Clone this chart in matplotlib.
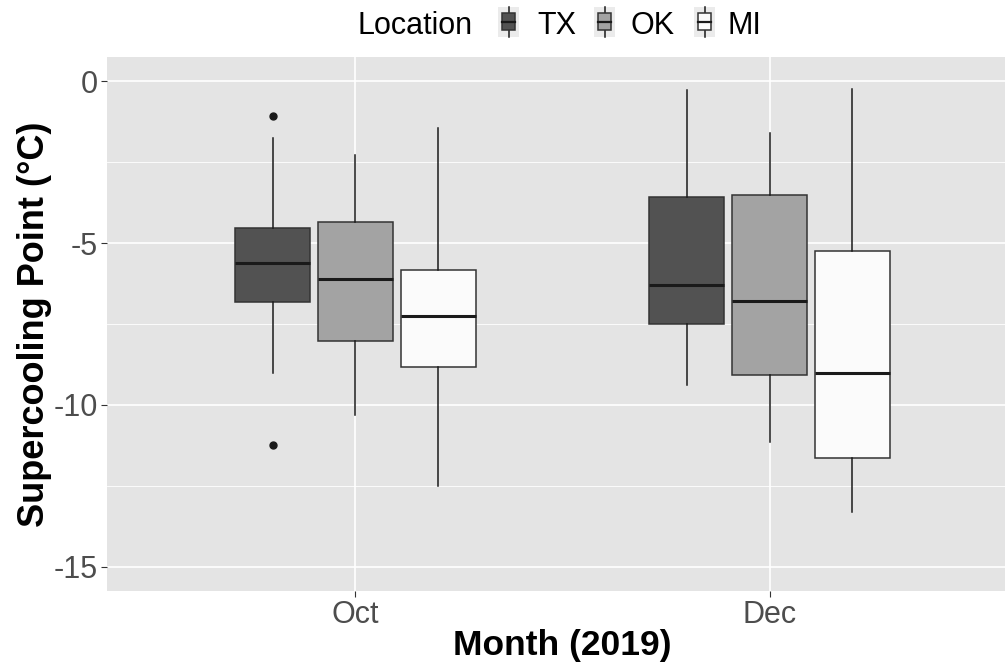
import matplotlib
matplotlib.use("Agg")
import matplotlib.pyplot as plt
from matplotlib.patches import Rectangle
from matplotlib.lines import Line2D
from matplotlib.ticker import FixedLocator

plt.rcParams["font.family"] = ["Liberation Sans", "DejaVu Sans"]
plt.rcParams["axes.unicode_minus"] = False

months = ["Oct", "Dec"]
locations = ["TX", "OK", "MI"]
fills = ["#525252", "#A3A3A3", "#FBFBFB"]

# summaries, one value per month (Oct, Dec)
whisker_low = {"TX": [-9.02, -9.38], "OK": [-10.31, -11.16], "MI": [-12.50, -13.30]}
q1 = {"TX": [-6.83, -7.50], "OK": [-8.02, -9.09], "MI": [-8.83, -11.63]}
median = {"TX": [-5.61, -6.30], "OK": [-6.11, -6.80], "MI": [-7.24, -9.01]}
q3 = {"TX": [-4.53, -3.57], "OK": [-4.34, -3.52], "MI": [-5.82, -5.23]}
whisker_high = {"TX": [-1.75, -0.28], "OK": [-2.27, -1.61], "MI": [-1.44, -0.23]}
outliers = {"TX": [[-1.07, -11.25], []], "OK": [[], []], "MI": [[], []]}

y_ticks = [0, -5, -10, -15]
y_minor = [-2.5, -7.5, -12.5]

W, H = 1005, 664
DODGE = 0.2
BOX_W = 0.18
EDGE = "#333333"

fig = plt.figure(figsize=(W / 100, H / 100), dpi=100)
# panel runs past the right edge of the picture, as in the reference
ax = fig.add_axes([107 / W, 1 - 591 / H, 911 / W, 534 / H])
ax.set_facecolor("#E4E4E4")
for spine in ax.spines.values():
    spine.set_visible(False)

for j, loc in enumerate(locations):
    stats = []
    positions = []
    for i, m in enumerate(months):
        stats.append(
            {
                "whislo": whisker_low[loc][i],
                "q1": q1[loc][i],
                "med": median[loc][i],
                "q3": q3[loc][i],
                "whishi": whisker_high[loc][i],
                "fliers": outliers[loc][i],
            }
        )
        positions.append(i + 1 + (j - 1) * DODGE)
    ax.bxp(
        stats,
        positions=positions,
        widths=BOX_W,
        patch_artist=True,
        showcaps=False,
        boxprops=dict(facecolor=fills[j], edgecolor=EDGE, linewidth=1.1),
        medianprops=dict(color="#1a1a1a", linewidth=2.2, solid_capstyle="butt"),
        whiskerprops=dict(color="#1a1a1a", linewidth=1.1),
        flierprops=dict(marker="o", markerfacecolor="#1a1a1a", markeredgecolor="#1a1a1a",
                        markersize=5),
        zorder=3,
    )

ax.set_xlim(0.4, 2.6)
ax.set_ylim(-15.75, 0.75)
ax.set_xticks([1, 2])
ax.set_xticklabels(months)
ax.set_yticks(y_ticks)
ax.set_yticklabels([str(v) for v in y_ticks])
ax.yaxis.set_minor_locator(FixedLocator(y_minor))
ax.tick_params(axis="both", which="major", labelsize=22, labelcolor="#4D4D4D",
               color="#333333", length=4.5, width=0.8, pad=2)
ax.tick_params(axis="y", which="minor", length=0)
ax.grid(True, which="major", color="white", linewidth=1.2, zorder=0)
ax.grid(True, which="minor", axis="y", color="white", linewidth=0.6, zorder=0)
ax.set_axisbelow(True)

ax.set_xlabel("Month (2019)", fontsize=25.5, fontweight="bold", labelpad=-1)
ax.set_ylabel("Supercooling Point (°C)", fontsize=26, fontweight="bold", labelpad=1)


def px(x, y):
    return x / W, 1 - y / H


# legend across the top
tf = fig.transFigure
fig.text(*px(358, 34), "Location", fontsize=22, va="baseline", ha="left")
key_left = [498, 594, 694]
label_left = [537, 630, 728]
for j, loc in enumerate(locations):
    x0 = key_left[j]
    fig.add_artist(Rectangle(px(x0, 37), 21 / W, 30 / H, transform=tf,
                             facecolor="#EBEBEB", edgecolor="none", zorder=1))
    cx = x0 + 10.5
    fig.add_artist(Line2D([cx / W, cx / W], [px(0, 37)[1], px(0, 7)[1]], transform=tf,
                          color="#1a1a1a", linewidth=1.1, zorder=2))
    fig.add_artist(Rectangle(px(x0 + 4, 30), 13 / W, 17 / H, transform=tf,
                             facecolor=fills[j], edgecolor=EDGE, linewidth=1.1, zorder=3))
    fig.add_artist(Line2D([(x0 + 4) / W, (x0 + 17) / W], [px(0, 21.7)[1]] * 2, transform=tf,
                          color="#1a1a1a", linewidth=1.6, zorder=4))
    fig.text(*px(label_left[j], 34), loc, fontsize=22, va="baseline", ha="left")

fig.savefig("out.png", dpi=100)
